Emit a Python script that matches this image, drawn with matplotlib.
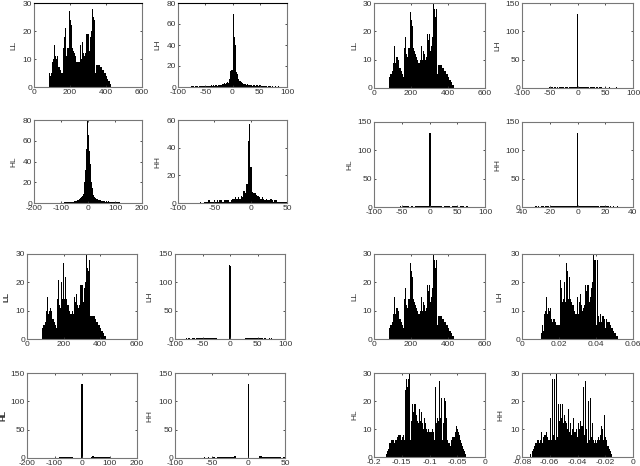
#histograms of wavelet subbands, four groups of four plots
import numpy as np
import matplotlib
matplotlib.use("Agg")
import matplotlib.pyplot as plt

plt.rcParams['font.family'] = ['Liberation Sans', 'DejaVu Sans']
plt.rcParams['axes.unicode_minus'] = False

#the LL histogram is the same in all four groups
ll_counts = [4,5,4,5,6,9,10,15,9,11,10,11,10,7,7,7,6,5,5,4,14,18,21,12,11,14,20,14,27,24,14,22,14,13,12,12,
             11,10,9,9,9,10,9,15,10,13,16,12,10,11,12,19,17,19,19,13,15,18,20,30,28,25,24,28,5,8,8,8,8,8,8,
             7,7,6,6,6,5,5,4,4,3,3,2,2,1,1]
ll_range = (82, 430)

#group A
a_lh_counts = [1,1,1,0,1,1,0,1,1,1,1,1,1,1,1,1,1,1,2,1,2,1,2,2,1,2,2,2,3,3,4,3,4,5,4,8,15,16,70,48,40,
               14,12,8,6,6,5,4,3,3,2,3,2,2,2,2,1,2,2,1,2,1,2,2,1,1,1,1,1,1,0,1,1,0,1,0,0,1,0,0,1]
a_lh_range = (-76, 86)
a_hl_counts = [1,0,1,1,1,1,1,1,1,1,1,1,2,2,2,3,4,3,4,5,6,7,9,13,20,32,52,80,66,50,44,38,20,14,8,6,5,4,4,4,
               3,3,3,2,2,3,2,2,1,2,1,2,1,1,1,1,1,1,1,1,1,1,1,1,1]
a_hl_range = (-90, 118)
a_hh_counts = [1,0,0,1,1,1,2,1,1,1,2,1,2,1,2,2,1,2,2,2,2,1,2,3,3,4,3,4,3,5,4,9,7,14,45,57,26,8,7,7,6,5,4,3,4,3,
               2,3,2,2,3,2,1,2,2,1,1,1,1,1,1,1]
a_hh_range = (-70, 50)

#group B
b_lh_counts = [1,0,1,0,1,1,0,1,0,1,1,1,1,0,1,1,1,0,1,1,1,1,1,1,2,130,2,1,1,2,1,1,1,1,1,1,0,1,1,1,1,0,1,1,0,1,1,
               1,0,0,1,0,0,0,1,0,0,0,0,0,1]
b_lh_range = (-51, 71)
b_hl_counts = [1,0,1,1,1,0,1,0,1,1,1,1,1,1,2,130,2,1,1,1,1,1,0,1,1,1,0,1,1,1,0,1,1,0,1]
b_hl_range = (-54, 68.5)
b_hh_counts = [1,0,1,0,1,1,0,1,1,1,0,1,1,1,1,1,1,1,1,1,1,1,1,1,1,1,2,1,2,2,130,2,2,1,1,1,1,1,1,1,1,1,1,1,
               1,1,0,1,1,1,1,1,1,0,1,0,1,0,0,1,0]
b_hh_range = (-30.5, 30.5)

#group C
c_lh_counts = [1,0,1,1,0,1,1,1,0,1,1,1,1,1,1,1,1,2,1,1,2,1,1,1,1,1,2,1,0,0,0,0,0,0,0,0,0,0,0,130,128,0,0,0,0,0,0,0,0,
               0,0,0,0,0,1,1,1,2,1,1,2,1,1,1,2,1,1,1,1,1,0,1,1,0,0,1,0,1]
c_lh_range = (-80, 76)
c_hl_counts = [1,1,2,1,1,2,1,1,2,2,1,1,0,0,0,0,0,0,0,0,130,0,0,0,0,0,0,0,0,1,3,2,2,2,1,2,2,1,2,1,1,1,1,1,1,1]
c_hl_range = (-82, 102)
c_hh_counts = [1,0,0,1,0,0,1,1,0,1,1,1,1,1,1,2,1,2,2,1,2,3,0,0,0,0,0,0,0,0,130,0,0,0,0,0,0,0,3,3,2,2,2,2,1,2,1,1,1,
               1,1,1,1,0,1,1]
c_hh_range = (-61, 51)

#group D
d_lh_counts = [4,2,5,3,9,10,15,9,11,10,11,7,6,7,7,6,5,5,5,4,5,21,18,13,14,20,13,27,24,14,22,14,13,12,12,10,9,9,
               10,15,9,13,16,12,10,11,12,19,17,19,19,13,15,18,20,30,28,25,28,5,28,8,6,9,6,8,8,7,4,7,6,6,6,5,4,
               4,3,3,2,2,1,1]
d_lh_range = (0.0100, 0.0520)
d_hl_counts = [1,2,3,4,5,5,6,6,6,5,6,6,7,8,8,8,6,7,8,6,24,28,25,28,30,6,13,20,19,16,19,19,15,13,12,17,13,16,12,
               10,14,12,10,9,10,9,9,9,10,9,6,14,25,12,14,13,27,14,21,6,12,21,20,14,6,5,5,4,6,7,7,7,9,11,10,11,
               9,8,6,5,4,3,2,1]
d_hl_range = (-0.179, -0.034)
d_hh_counts = [1,0,2,3,4,5,5,6,5,6,9,5,7,8,8,9,7,6,6,14,6,28,8,28,6,30,7,19,13,19,14,19,12,15,13,12,10,17,9,12,
               8,10,14,9,9,10,7,12,10,13,11,25,8,27,10,5,20,6,21,7,12,6,5,6,5,6,7,6,8,11,10,6,15,7,6,4,4,3,2,1]
d_hh_range = (-0.074, -0.015)

#name, counts, data range, xlim, xticks, xtick labels, ylim, yticks
group_a = [('LL', ll_counts, ll_range, (0,600), [0,200,400,600], None, 30, [0,10,20,30]),
           ('LH', a_lh_counts, a_lh_range, (-100,100), [-100,-50,0,50,100], None, 80, [0,20,40,60,80]),
           ('HL', a_hl_counts, a_hl_range, (-200,200), [-200,-100,0,100,200], None, 80, [0,20,40,60,80]),
           ('HH', a_hh_counts, a_hh_range, (-100,50), [-100,-50,0,50], None, 60, [0,20,40,60])]
group_b = [('LL', ll_counts, ll_range, (0,600), [0,200,400,600], None, 30, [0,10,20,30]),
           ('LH', b_lh_counts, b_lh_range, (-100,100), [-100,-50,0,50,100], None, 150, [0,50,100,150]),
           ('HL', b_hl_counts, b_hl_range, (-100,100), [-100,-50,0,50,100], None, 150, [0,50,100,150]),
           ('HH', b_hh_counts, b_hh_range, (-40,40), [-40,-20,0,20,40], None, 150, [0,50,100,150])]
group_c = [('LL', ll_counts, ll_range, (0,600), [0,200,400,600], None, 30, [0,10,20,30]),
           ('LH', c_lh_counts, c_lh_range, (-100,100), [-100,-50,0,50,100], None, 150, [0,50,100,150]),
           ('HL', c_hl_counts, c_hl_range, (-200,200), [-200,-100,0,100,200], None, 150, [0,50,100,150]),
           ('HH', c_hh_counts, c_hh_range, (-100,50), [-100,-50,0,50], None, 150, [0,50,100,150])]
group_d = [('LL', ll_counts, ll_range, (0,600), [0,200,400,600], None, 30, [0,10,20,30]),
           ('LH', d_lh_counts, d_lh_range, (0,0.06), [0,0.02,0.04,0.06], ['0','0.02','0.04','0.06'], 30, [0,10,20,30]),
           ('HL', d_hl_counts, d_hl_range, (-0.2,0), [-0.2,-0.15,-0.1,-0.05,0], ['-0.2','-0.15','-0.1','-0.05','0'], 30, [0,10,20,30]),
           ('HH', d_hh_counts, d_hh_range, (-0.08,0), [-0.08,-0.06,-0.04,-0.02,0], ['-0.08','-0.06','-0.04','-0.02','0'], 30, [0,10,20,30])]

W, H = 640, 466
fig = plt.figure(figsize=(W/100, H/100), dpi=100)

def draw(panel, box, label_x, top_col='#777777', bold=False):
    name, counts, rng, xlim, xticks, xlabels, ymax, yticks = panel
    x0, y0, x1, y1 = box
    ax = fig.add_axes([x0/W, 1-y1/H, (x1-x0)/W, (y1-y0)/H])
    edges = np.linspace(rng[0], rng[1], len(counts)+1)
    ax.stairs(counts, edges, fill=True, color='k', linewidth=0)
    ax.set_xlim(xlim)
    ax.set_ylim(0, ymax)
    ax.set_xticks(xticks)
    if xlabels is not None:
        ax.set_xticklabels(xlabels)
    ax.set_yticks(yticks)
    ax.tick_params(direction='in', length=1.2, width=0.6, top=True, right=True, labelsize=6,
                   pad=1.5, colors='#333333')
    for s in ax.spines.values():
        s.set_color('#777777')
        s.set_linewidth(0.8)
    ax.spines['top'].set_color(top_col)
    fig.text(label_x/W, 1-(y0+y1)/2/H, name, rotation=90, ha='center', va='center', fontsize=6,
             color='#333333', fontweight='bold' if bold else 'normal')

#boxes in pixels of the reference: left, top, right, bottom
draw(group_a[0], (34,3,142,87), 14, 'black')
draw(group_a[1], (178,3,287,87), 158, 'black')
draw(group_a[2], (34,120,142,203), 14)
draw(group_a[3], (178,120,287,203), 158)

draw(group_b[0], (374,3,485,88), 355)
draw(group_b[1], (522,3,633,88), 498)
draw(group_b[2], (374,122,485,207), 350)
draw(group_b[3], (522,122,633,207), 498)

draw(group_c[0], (27,254,137,339), 7, bold=True)
draw(group_c[1], (175,254,285,339), 150)
draw(group_c[2], (27,373,137,458), 4, bold=True)
draw(group_c[3], (175,373,285,458), 150)

draw(group_d[0], (374,254,485,339), 355)
draw(group_d[1], (522,254,633,339), 500)
draw(group_d[2], (374,373,485,457), 355)
draw(group_d[3], (522,373,633,457), 501)

fig.savefig('out.png', dpi=100)
